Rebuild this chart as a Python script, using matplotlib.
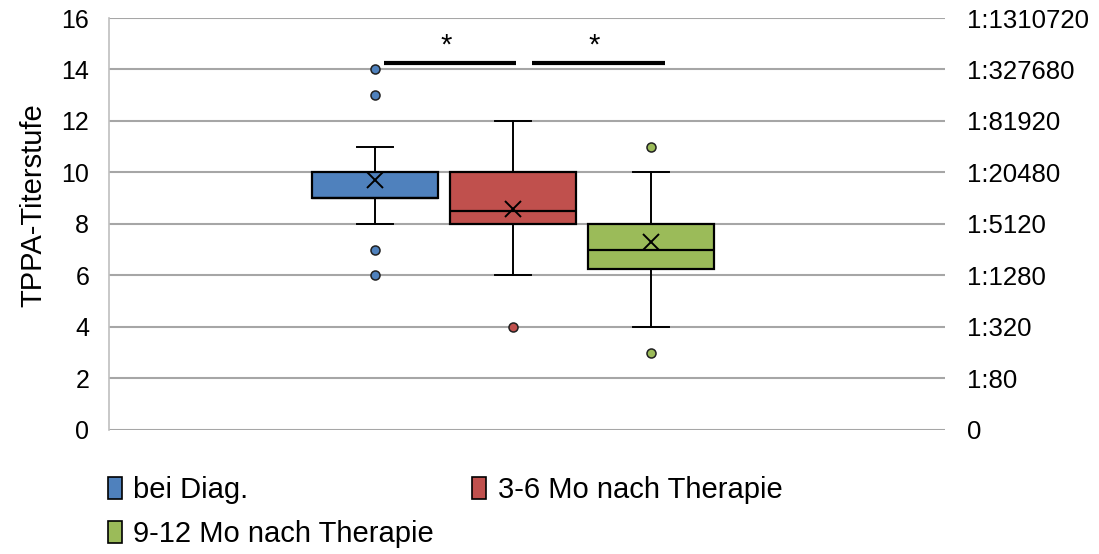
import matplotlib.pyplot as plt
from matplotlib.patches import Patch

plt.rcParams['font.family'] = ['Liberation Sans', 'DejaVu Sans']

# data
groups = ['bei Diag.', '3-6 Mo nach Therapie', '9-12 Mo nach Therapie']
colors = ['#4f81bd', '#c0504d', '#9bbb59']
q1 = [9, 8, 6.25]
q3 = [10, 10, 8]
med = [9, 8.5, 7]
means = [9.7, 8.6, 7.3]
wlo = [8, 6, 4]
whi = [11, 12, 10]
fliers = [[14, 13, 7, 6], [4], [11, 3]]

yticks = list(range(0, 17, 2))
titer = ['0', '1:80', '1:320', '1:1280', '1:5120', '1:20480', '1:81920',
         '1:327680', '1:1310720']

# significance bars: (x start, x end, y)
sig = [(1.065, 2.02, 14.25), (2.14, 3.10, 14.25)]

fig = plt.figure(figsize=(10.99, 5.54), dpi=100)
ax = fig.add_axes([0.099, 0.224, 0.761, 0.7435])

stats = []
for i in range(3):
    stats.append(dict(med=med[i], q1=q1[i], q3=q3[i], whislo=wlo[i],
                      whishi=whi[i], mean=means[i], fliers=fliers[i]))

pos = [1, 2, 3]
for i in range(3):
    ax.bxp([stats[i]], positions=[pos[i]], widths=0.913, capwidths=0.26,
           showmeans=True, patch_artist=True,
           boxprops=dict(facecolor=colors[i], edgecolor='black', linewidth=1.6),
           medianprops=dict(color='black', linewidth=1.6),
           whiskerprops=dict(color='black', linewidth=1.4),
           capprops=dict(color='black', linewidth=1.4),
           meanprops=dict(marker='x', markeredgecolor='black', markersize=11,
                          markeredgewidth=1.4),
           flierprops=dict(marker='o', markerfacecolor=colors[i],
                           markeredgecolor='#202020', markersize=6.5,
                           markeredgewidth=1.1))

for x0, x1, y in sig:
    ax.plot([x0, x1], [y, y], color='black', linewidth=3, solid_capstyle='butt')
    ax.text((x0 + x1) / 2 - 0.03, y + 0.12, '*', ha='center', va='bottom',
            fontsize=21)

ax.set_xlim(-0.928, 5.13)
ax.set_ylim(0, 16)
ax.set_yticks(yticks)
ax.set_xticks([])
ax.yaxis.grid(True, color='#a6a6a6', linewidth=1.5)
ax.set_axisbelow(True)
for s in ax.spines.values():
    s.set_visible(False)
ax.spines['left'].set_visible(True)
ax.spines['left'].set_color('#bfbfbf')
ax.spines['left'].set_linewidth(1.2)
ax.tick_params(axis='y', length=0, pad=14, labelsize=18)
ax.set_ylabel('TPPA-Titerstufe', fontsize=21)
ax.yaxis.set_label_coords(-0.073, 0.545)

ax2 = ax.twinx()
ax2.set_ylim(0, 16)
ax2.set_yticks(yticks)
ax2.set_yticklabels(titer)
ax2.tick_params(axis='y', length=0, pad=16, labelsize=18.5)
for s in ax2.spines.values():
    s.set_visible(False)

# row-wise legend: blue, red in first row, green in second
order = [0, 2, 1]
handles = [Patch(facecolor=colors[i], edgecolor='black', linewidth=1.2)
           for i in order]
fig.legend(handles, [groups[i] for i in order], loc='upper left',
           bbox_to_anchor=(0.098, 0.141), ncol=2, frameon=False, fontsize=21,
           handlelength=0.48, handleheight=0.8, handletextpad=0.4,
           columnspacing=1.3, labelspacing=0.55, borderaxespad=0, borderpad=0)

fig.savefig('out.png', dpi=100)
